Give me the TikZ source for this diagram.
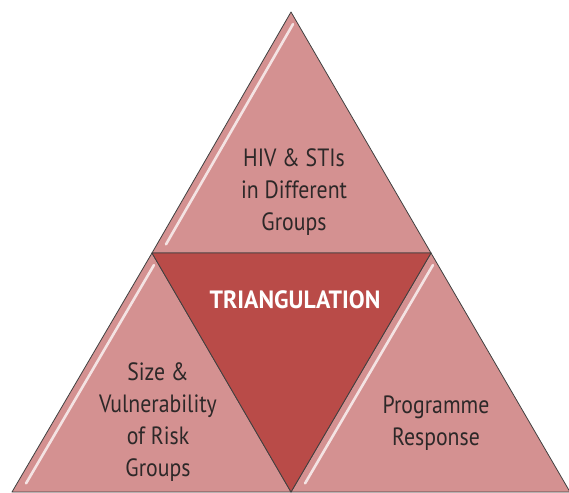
\documentclass[tikz,border=0pt]{standalone}
\usepackage{fontspec}
\setmainfont{PT Sans}
\usetikzlibrary{calc}
\definecolor{pinklight}{RGB}{212,145,145}
\definecolor{reddark}{RGB}{185,75,72}
\definecolor{textgray}{RGB}{45,40,40}
\begin{document}
\begin{tikzpicture}[x=1pt, y=1pt, tri_style/.style={draw=black!75, line width=0.8pt, line join=round, fill=pinklight}, mid_style/.style={tri_style, fill=reddark}, gloss_style/.style={draw=white, line width=2.6pt, opacity=0.75, line cap=round, shorten <=14pt, shorten >=10pt}, label_style/.style={align=center, text=textgray, xscale=0.87, transform shape, font=\fontsize{25}{32}\selectfont}]
      \useasboundingbox (0,0) rectangle (569,492);
      \coordinate (apex) at (291,480);
      \coordinate (midL) at (152,239);
      \coordinate (midR) at (431,239);
      \coordinate (botL) at (12,0);
      \coordinate (botM) at (291,0);
      \coordinate (botR) at (570,0);
      % outer triangles
      \filldraw[tri_style] (apex) -- (midL) -- (midR) -- cycle;
      \filldraw[tri_style] (midL) -- (botL) -- (botM) -- cycle;
      \filldraw[tri_style] (midR) -- (botM) -- (botR) -- cycle;
      % centre
      \filldraw[mid_style] (midL) -- (midR) -- (botM) -- cycle;
      % highlights
      \draw[gloss_style] ([xshift=9pt]apex) -- ([xshift=9pt]midL);
      \draw[gloss_style] ([xshift=9pt]midL) -- ([xshift=9pt]botL);
      \draw[gloss_style] ([xshift=9pt]midR) -- ([xshift=9pt]botM);
      \draw
        (294, 300) node[label_style] (hiv){HIV \& STIs\\in Different\\Groups}
        (158, 070) node[label_style] (size){Size \&\\Vulnerability\\of Risk\\Groups}
        (436, 069) node[label_style] (resp){Programme\\Response}
        (295, 192) node[xscale=0.95, transform shape, font=\fontsize{25}{28}\bfseries\selectfont, text=white] (tri){TRIANGULATION};
    \end{tikzpicture}
\end{document}
